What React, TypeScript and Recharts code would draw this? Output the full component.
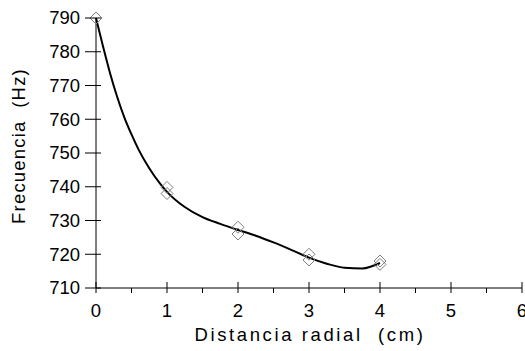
import { ComposedChart, Line, Scatter, XAxis, YAxis } from 'recharts';

// medidas (diamantes)
const distancia = [0, 1, 1, 2, 2, 3, 3, 4, 4];
const frecuencia = [790, 739.8, 738, 728, 726, 720, 718.3, 718, 717];

// línea de tendencia
const curvaX = [0, 0.1, 0.2, 0.3, 0.4, 0.5, 0.6, 0.75, 0.9, 1, 1.25, 1.5, 1.75, 2, 2.25, 2.5, 2.75, 3, 3.25, 3.5, 3.75, 4];
const curvaY = [790, 781.5, 773.5, 766.5, 760.5, 755.5, 751, 745.5, 741, 738.5, 734, 731, 729, 727.2, 725.5, 723.5, 721.3, 719, 717.2, 716, 715.8, 717.4];

const xTicks = [0, 0.5, 1, 1.5, 2, 2.5, 3, 3.5, 4, 4.5, 5, 5.5, 6];
const yTicks = [710, 720, 730, 740, 750, 760, 770, 780, 790];

const FONT = '"Liberation Sans", Arial, sans-serif';

const puntos = distancia.map((x, i) => ({ x, y: frecuencia[i] }));
const curva = curvaX.map((x, i) => ({ x, y: curvaY[i] }));

const XTick = ({ x, y, payload }: any) => {
  const major = Number.isInteger(payload.value);
  return (
    <g>
      <line x1={x} x2={x} y1={major ? y - 6 : y} y2={y + 5} stroke="#000" />
      {major && (
        <text x={x} y={y + 29} textAnchor="middle" fontSize={18.5} fontFamily={FONT} fill="#000">
          {payload.value}
        </text>
      )}
    </g>
  );
};

const YTick = ({ x, y, payload }: any) => (
  <g>
    <line x1={x - 11} x2={x + 5} y1={y} y2={y} stroke="#000" />
    <text x={x - 16} y={y} dy="0.35em" textAnchor="end" fontSize={18.5} fontFamily={FONT} fill="#000">
      {payload.value}
    </text>
  </g>
);

const Diamond = ({ cx, cy }: any) => (
  <path
    d={`M${cx},${cy - 6}L${cx + 6},${cy}L${cx},${cy + 6}L${cx - 6},${cy}Z`}
    fill="none"
    stroke="#808080"
    strokeWidth={1}
  />
);

export default function App() {
  return (
    <div style={{ width: 525, height: 351, background: '#fff' }}>
      <style>{'html,body{margin:0;overflow:hidden}'}</style>
      <ComposedChart width={525} height={351} margin={{ top: 18, right: 3, bottom: 0, left: 0 }}>
        <XAxis
          dataKey="x"
          type="number"
          domain={[0, 6]}
          ticks={xTicks}
          interval={0}
          tickSize={0}
          tickMargin={0}
          tick={<XTick />}
          height={63}
          stroke="#000"
          allowDecimals
          label={{
            content: () => (
              <text x={310} y={341} textAnchor="middle" fontSize={18.5} fontFamily={FONT} fill="#000" style={{ whiteSpace: 'pre', letterSpacing: 2.6 }}>
                Distancia radial  (cm)
              </text>
            ),
          }}
        />
        <YAxis
          dataKey="y"
          type="number"
          domain={[710, 790]}
          ticks={yTicks}
          interval={0}
          tickSize={0}
          tickMargin={0}
          tick={<YTick />}
          width={96}
          stroke="#000"
          label={{
            content: () => (
              <text x={25} y={146} transform="rotate(-90 25 146)" textAnchor="middle" fontSize={18.5} fontFamily={FONT} fill="#000" style={{ whiteSpace: 'pre', letterSpacing: 1.2 }}>
                Frecuencia  (Hz)
              </text>
            ),
          }}
        />
        <Line data={curva} dataKey="y" type="monotone" stroke="#000" strokeWidth={2} dot={false} isAnimationActive={false} />
        <Scatter data={puntos} dataKey="y" shape={<Diamond />} isAnimationActive={false} />
      </ComposedChart>
    </div>
  );
}
